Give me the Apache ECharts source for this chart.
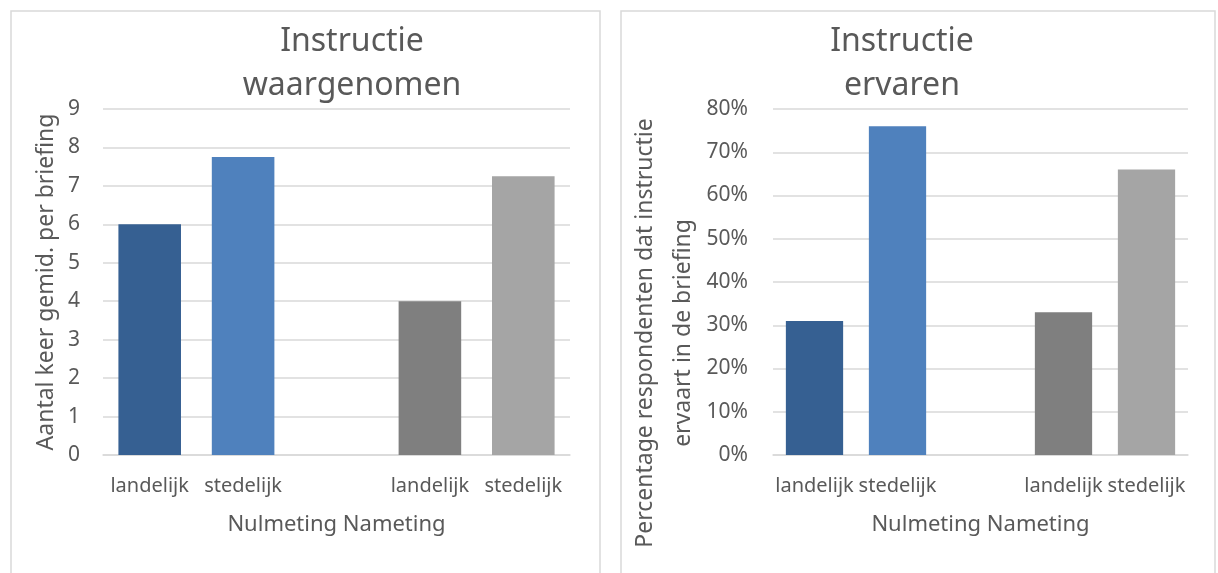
<!DOCTYPE html>
<html>
<head>
<meta charset="utf-8">
<script src="https://cdn.jsdelivr.net/npm/echarts@6/dist/echarts.min.js"></script>
<style>
  html, body { margin: 0; padding: 0; background: #fff; }
  #main { width: 1218px; height: 573px; }
</style>
</head>
<body>
<div id="main"></div>
<script>
// categorieen (middelste plek is leeg, scheiding tussen nulmeting en nameting)
const categories = ["landelijk", "stedelijk", "", "landelijk", "stedelijk"];
// aantal keer gemiddeld per briefing
const waargenomen = [6.0, 7.75, null, 4.0, 7.25];
// percentage respondenten (fractie)
const ervaren = [0.31, 0.76, null, 0.33, 0.66];
const barColors = ["#366092", "#4F81BD", "#7F7F7F", "#7F7F7F", "#A5A5A5"];

const font = "Noto Sans";
const grey = "#595959";

const toData = (vals) =>
    vals.map((v, i) => ({ value: v, itemStyle: { color: barColors[i] } }));

const chart = echarts.init(document.getElementById("main"), null, { renderer: "canvas" });

const xAxisBase = (gridIndex) => ({
    type: "category",
    gridIndex: gridIndex,
    data: categories,
    axisTick: { show: false },
    axisLine: { lineStyle: { color: "#D9D9D9", width: 1.5 } },
    axisLabel: { color: grey, fontFamily: font, fontSize: 20, margin: 21, interval: 0 },
    name: "Nulmeting Nameting",
    nameLocation: "middle",
    nameGap: 59,
    nameTextStyle: { color: grey, fontFamily: font, fontSize: 22 },
});

const titleStyle = { color: grey, fontFamily: font, fontSize: 32, fontWeight: "normal", lineHeight: 44 };

const option = {
    animation: false,
    title: [
        { text: "Instructie\nwaargenomen", left: 347, top: 15, textAlign: "center", textStyle: titleStyle },
        { text: "Instructie\nervaren", left: 897, top: 15, textAlign: "center", textStyle: titleStyle },
    ],
    // kaders om beide grafieken
    graphic: [
        { type: "rect", shape: { x: 11, y: 11, width: 589, height: 620 }, style: { fill: "none", stroke: "#D9D9D9", lineWidth: 1.5 } },
        { type: "rect", shape: { x: 621, y: 11, width: 594, height: 620 }, style: { fill: "none", stroke: "#D9D9D9", lineWidth: 1.5 } },
    ],
    grid: [
        { left: 103, top: 109, width: 467, height: 346 },
        { left: 773, top: 109, width: 415, height: 346 },
    ],
    xAxis: [xAxisBase(0), xAxisBase(1)],
    yAxis: [
        {
            type: "value",
            gridIndex: 0,
            min: 0,
            max: 9,
            interval: 1,
            axisLine: { show: false },
            axisTick: { show: false },
            splitLine: { lineStyle: { color: "#D9D9D9", width: 1.5 } },
            axisLabel: { color: grey, fontFamily: font, fontSize: 21, margin: 23 },
            name: "Aantal keer gemid. per briefing",
            nameLocation: "middle",
            nameGap: 45,
            nameTextStyle: { color: grey, fontFamily: font, fontSize: 23 },
        },
        {
            type: "value",
            gridIndex: 1,
            min: 0,
            max: 0.8,
            interval: 0.1,
            axisLine: { show: false },
            axisTick: { show: false },
            splitLine: { lineStyle: { color: "#D9D9D9", width: 1.5 } },
            axisLabel: {
                color: grey, fontFamily: font, fontSize: 21, margin: 25,
                formatter: (v) => Math.round(v * 100) + "%",
            },
            name: "Percentage respondenten dat instructie\nervaart in de briefing",
            nameLocation: "middle",
            nameGap: 71,
            nameTextStyle: { color: grey, fontFamily: font, fontSize: 23, lineHeight: 38, padding: [0, 102, 0, 0] },
        },
    ],
    series: [
        { type: "bar", xAxisIndex: 0, yAxisIndex: 0, barWidth: "67%", data: toData(waargenomen) },
        { type: "bar", xAxisIndex: 1, yAxisIndex: 1, barWidth: "69%", data: toData(ervaren) },
    ],
};

chart.setOption(option);
</script>
</body>
</html>
